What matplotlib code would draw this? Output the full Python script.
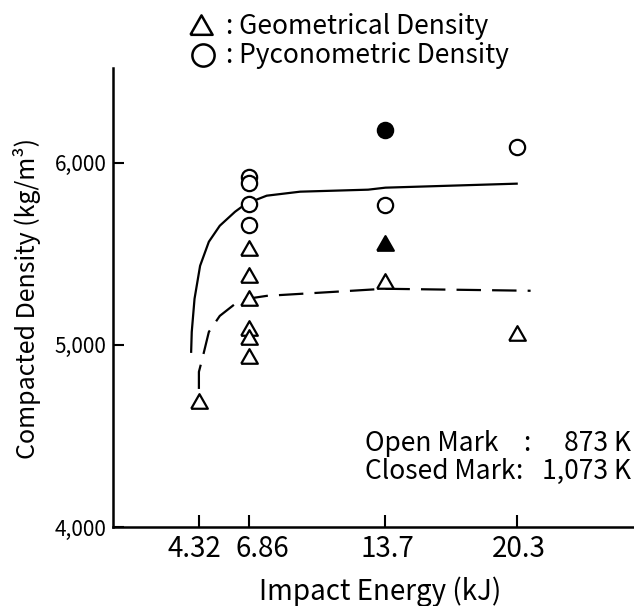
import matplotlib.pyplot as plt
from matplotlib.lines import Line2D
from matplotlib.transforms import ScaledTranslation

plt.rcParams['font.family'] = ['Noto Sans CJK JP', 'DejaVu Sans']

# impact energies (kJ)
energy_ticks = [4.32, 6.86, 13.7, 20.3]

# geometrical density, open marks (873 K)
geo_open_x = [4.32, 6.86, 6.86, 6.86, 6.86, 6.86, 6.86, 13.7, 20.3]
geo_open_y = [4687, 5527, 5379, 5253, 5088, 5038, 4934, 5346, 5060]
# geometrical density, closed mark (1,073 K)
geo_closed_x = [13.7]
geo_closed_y = [5555]

# pyconometric density, open marks
pyc_open_x = [6.86, 6.86, 6.86, 6.86, 13.7, 20.3]
pyc_open_y = [5923, 5890, 5775, 5659, 5769, 6088]
# pyconometric density, closed mark
pyc_closed_x = [13.7]
pyc_closed_y = [6181]

# trend curves
pyc_curve_x = [3.93, 3.96, 4.10, 4.38, 4.82, 5.37, 6.14, 6.69, 7.73, 9.41, 12.83, 13.7, 20.3]
pyc_curve_y = [4962, 5071, 5253, 5434, 5566, 5654, 5731, 5775, 5819, 5841, 5852, 5863, 5885]
geo_curve_x = [4.32, 4.32, 4.49, 4.82, 5.37, 6.14, 6.75, 7.73, 11.1, 13.65, 21.0]
geo_curve_y = [4758, 4852, 4923, 5071, 5159, 5225, 5253, 5269, 5291, 5308, 5297]

W, H = 634, 606
fig = plt.figure(figsize=(W / 100, H / 100), dpi=100)
ax = fig.add_axes([113 / W, 1 - 527 / H, 1 - 113 / W, (527 - 68) / H])

tri = [(-1, -0.75), (1, -0.75), (0, 1.0), (-1, -0.75)]

ax.plot(pyc_curve_x, pyc_curve_y, color='black', lw=1.6)
ax.plot(geo_curve_x, geo_curve_y, color='black', lw=1.6, dashes=(11, 5))

ax.plot(geo_open_x, geo_open_y, ls='none', marker=tri, ms=12,
        mfc='white', mec='black', mew=1.6)
ax.plot(geo_closed_x, geo_closed_y, ls='none', marker=tri, ms=12,
        mfc='black', mec='black', mew=1.6)
ax.plot(pyc_open_x, pyc_open_y, ls='none', marker='o', ms=11,
        mfc='white', mec='black', mew=1.6)
ax.plot(pyc_closed_x, pyc_closed_y, ls='none', marker='o', ms=11,
        mfc='black', mec='black', mew=1.6)

ax.set_xlim(0, 26.2)
ax.set_ylim(4000, 6520)
ax.set_xticks(energy_ticks)
ax.set_xticklabels([f'{v:g}' for v in energy_ticks], fontsize=20)
ax.set_yticks([4000, 5000, 6000])
ax.set_yticklabels(['4,000', '5,000', '6,000'], fontsize=15)
ax.tick_params(axis='x', direction='in', length=9, width=1.5, pad=5)
ax.tick_params(axis='y', direction='in', length=8, width=1.5, pad=4.5)
for s in ['top', 'right']:
    ax.spines[s].set_visible(False)
for s in ['left', 'bottom']:
    ax.spines[s].set_linewidth(1.8)

# the printed labels sit a little off their ticks
for lab, dx in zip(ax.get_xticklabels(), [-5, 13, 2, 2]):
    lab.set_transform(lab.get_transform() + ScaledTranslation(dx / 100, 0, fig.dpi_scale_trans))

fig.text(380 / W, 1 - 600 / H, 'Impact Energy (kJ)', fontsize=20,
         ha='center', va='baseline')
fig.text(27 / W, 1 - 298 / H, 'Compacted Density (kg/m³)', fontsize=18,
         ha='center', va='center', rotation=90)

# key at the top
fig.add_artist(Line2D([201 / W], [1 - 26 / H], transform=fig.transFigure, ls='none',
                      marker=tri, ms=16, mfc='white', mec='black', mew=1.8))
fig.add_artist(Line2D([203 / W], [1 - 55 / H], transform=fig.transFigure, ls='none',
                      marker='o', ms=16, mfc='white', mec='black', mew=1.8))
fig.text(226 / W, 1 - 34 / H, ': Geometrical Density', fontsize=19,
         ha='left', va='baseline')
fig.text(226 / W, 1 - 63 / H, ': Pyconometric Density', fontsize=19,
         ha='left', va='baseline')

fig.text(365 / W, 1 - 451 / H, 'Open Mark', fontsize=19, ha='left', va='baseline')
fig.text(527 / W, 1 - 451 / H, ':', fontsize=19, ha='center', va='baseline')
fig.text(631 / W, 1 - 451 / H, '873 K', fontsize=19, ha='right', va='baseline')
fig.text(365 / W, 1 - 479 / H, 'Closed Mark', fontsize=19, ha='left', va='baseline')
fig.text(519 / W, 1 - 479 / H, ':', fontsize=19, ha='center', va='baseline')
fig.text(631 / W, 1 - 479 / H, '1,073 K', fontsize=19, ha='right', va='baseline')

fig.savefig('out.png', dpi=100)
